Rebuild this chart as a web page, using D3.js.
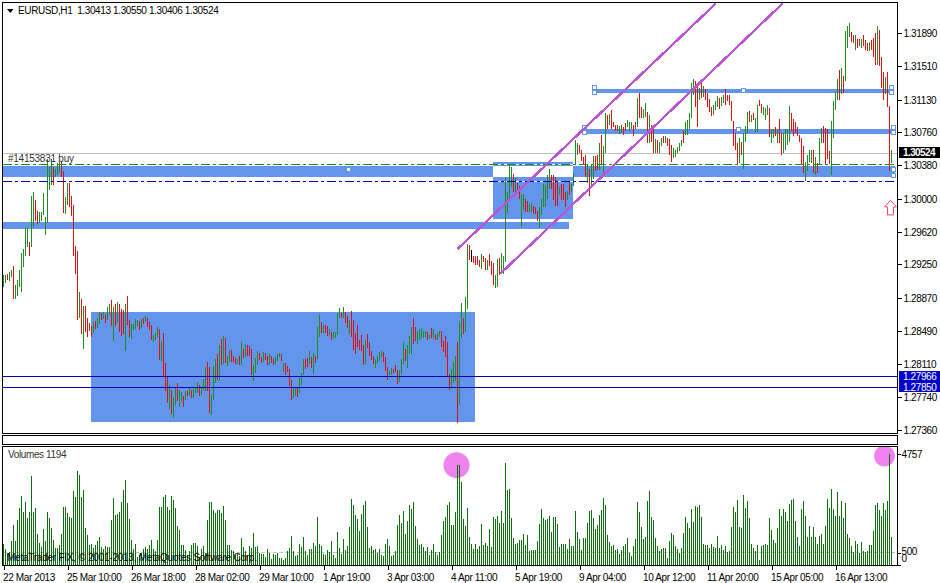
<!DOCTYPE html>
<html><head><meta charset="utf-8">
<script src="https://cdn.jsdelivr.net/npm/d3@7"></script>
<style>
html,body{margin:0;padding:0;background:#fff;overflow:hidden}
text{font-family:"Liberation Sans",Arial,sans-serif;font-size:10px;letter-spacing:-0.38px;fill:#000}
.domain{display:none}
</style></head><body><div id="c"></div>
<script>
// Prices are in units of 0.0001 (12913 = 1.2913)
const highs=[
12913,12913,12914,12916,12918,12923,12902,12907,12918,12938,
12943,12966,12966,12950,13003,13008,12999,12986,12985,12985,
13007,12979,13045,13036,13045,13036,13034,13041,13042,13043,
13032,13002,13018,13018,13003,12993,12946,12940,12894,12885,
12878,12877,12864,12858,12855,12859,12860,12864,12871,12869,
12871,12868,12876,12880,12884,12876,12880,12882,12880,12874,
12873,12880,12889,12861,12857,12857,12863,12861,12860,12863,
12864,12866,12864,12859,12856,12844,12847,12853,12851,12837,
12847,12812,12798,12787,12782,12774,12784,12790,12782,12779,
12775,12780,12780,12785,12782,12783,12785,12791,12787,12784,
12794,12808,12814,12808,12776,12809,12817,12823,12833,12840,
12843,12841,12820,12827,12827,12821,12818,12817,12821,12836,
12828,12834,12833,12832,12828,12810,12818,12826,12824,12819,
12825,12824,12821,12823,12820,12817,12819,12823,12824,12823,
12812,12812,12809,12806,12793,12785,12783,12785,12795,12801,
12817,12817,12818,12826,12819,12824,12820,12853,12867,12859,
12856,12856,12855,12851,12848,12848,12848,12869,12875,12869,
12876,12871,12866,12861,12872,12861,12847,12856,12839,12844,
12833,12839,12845,12836,12826,12821,12817,12820,12825,12826,
12825,12819,12808,12803,12807,12806,12810,12804,12804,12817,
12836,12828,12833,12843,12853,12864,12853,12849,12851,12852,
12849,12849,12848,12844,12852,12851,12844,12847,12849,12849,
12837,12843,12836,12800,12806,12814,12821,12836,12859,12881,
12864,12888,12948,12947,12941,12935,12934,12934,12930,12937,
12935,12932,12930,12937,12929,12926,12913,12931,12932,12938,
12934,13024,13008,13038,13036,13028,13024,13018,13014,13005,
13005,13000,12997,12994,12995,12992,12991,12986,12991,13000,
13017,13015,13027,13034,13027,13027,13025,13019,13013,13017,
13017,13008,13009,13019,13017,13029,13067,13063,13061,13055,
13048,13050,13039,13034,13039,13049,13049,13050,13063,13073,
13060,13098,13096,13097,13101,13088,13084,13084,13083,13084,
13082,13086,13090,13088,13088,13084,13088,13115,13121,13105,
13102,13109,13099,13096,13084,13084,13068,13067,13065,13069,
13072,13072,13069,13068,13061,13058,13056,13059,13064,13067,
13077,13088,13090,13098,13132,13136,13134,13130,13126,13136,
13129,13125,13120,13114,13104,13107,13111,13117,13115,13116,
13118,13125,13118,13118,13111,13089,13075,13063,13069,13065,
13075,13083,13099,13100,13095,13098,13092,13107,13113,13108,
13105,13103,13107,13103,13079,13079,13082,13079,13091,13075,
13075,13079,13079,13106,13098,13091,13088,13082,13073,13069,
13060,13042,13050,13055,13055,13056,13048,13041,13069,13081,
13083,13081,13079,13054,13089,13111,13122,13136,13147,13149,
13140,13191,13197,13200,13190,13187,13187,13182,13182,13182,
13187,13181,13178,13179,13181,13183,13189,13197,13192,13162,
13144,13139,13145,13106,13055];
const lows=[
12899,12904,12907,12906,12911,12886,12886,12889,12899,12893,
12922,12934,12945,12934,12945,12968,12975,12971,12972,12975,
12981,12958,12972,13010,13015,13016,13025,13027,13029,13025,
12984,12982,12993,12991,12980,12934,12914,12861,12864,12845,
12828,12848,12842,12849,12842,12847,12851,12852,12857,12861,
12863,12858,12861,12867,12855,12837,12855,12858,12848,12843,
12845,12826,12856,12842,12840,12850,12851,12855,12850,12852,
12857,12859,12853,12850,12839,12836,12839,12842,12816,12815,
12798,12780,12767,12760,12754,12750,12764,12769,12762,12768,
12762,12770,12775,12775,12772,12772,12778,12778,12775,12776,
12782,12780,12780,12755,12753,12770,12790,12793,12792,12810,
12811,12812,12809,12814,12814,12814,12811,12811,12810,12810,
12818,12819,12821,12821,12799,12792,12801,12810,12816,12812,
12814,12816,12810,12810,12812,12810,12811,12815,12819,12815,
12802,12799,12802,12786,12770,12772,12775,12774,12778,12787,
12799,12806,12808,12811,12807,12800,12812,12817,12842,12847,
12847,12847,12843,12844,12839,12841,12841,12844,12864,12864,
12864,12858,12852,12845,12842,12827,12823,12831,12827,12826,
12810,12811,12829,12821,12816,12811,12807,12812,12815,12819,
12814,12803,12793,12799,12799,12801,12802,12788,12791,12800,
12811,12815,12807,12823,12823,12834,12837,12834,12839,12841,
12841,12842,12839,12840,12841,12841,12839,12839,12842,12831,
12825,12819,12798,12782,12785,12790,12792,12744,12764,12841,
12845,12848,12874,12930,12928,12926,12924,12924,12922,12920,
12928,12918,12918,12923,12913,12902,12898,12899,12913,12914,
12914,12928,12984,13000,13013,13008,13008,13006,13000,12968,
12987,12985,12985,12985,12985,12983,12982,12975,12966,12981,
12991,12991,13000,13011,13011,12998,12992,12992,13004,12998,
12999,12991,12998,13004,13008,13014,13039,13050,13052,13043,
13039,13025,13018,13003,13012,13022,13031,13033,13033,13039,
13025,13052,13080,13084,13080,13082,13077,13077,13074,13075,
13073,13077,13082,13077,13080,13071,13080,13082,13092,13092,
13092,13093,13063,13064,13065,13052,13052,13052,13052,13060,
13064,13064,13060,13050,13042,13046,13047,13052,13054,13060,
13063,13073,13073,13079,13092,13118,13105,13082,13113,13115,
13116,13113,13104,13099,13094,13096,13101,13105,13102,13106,
13109,13107,13111,13107,13089,13060,13056,13039,13041,13050,
13034,13065,13075,13087,13088,13090,13076,13076,13106,13098,
13095,13090,13096,13070,13063,13069,13071,13063,13063,13050,
13052,13055,13061,13065,13077,13071,13075,13072,13065,13039,
13029,13020,13031,13042,13041,13029,13027,13029,13038,13064,
13064,13039,13045,13039,13027,13069,13101,13113,13113,13119,
13121,13134,13172,13185,13179,13178,13170,13172,13174,13172,
13174,13170,13169,13168,13170,13162,13153,13153,13151,13126,
13113,13119,13105,13032,13041];
// u = rising bar, d = falling bar, k = unchanged bar
const directions=[
"uuduuduuuu","uuuduudduu","uuuuuduuud","duudddddud","udddduduud","uduudududd",
"dudduuuudu","duddduuudu","ddduduuduu","dududuuudu","uudduuudud","uduudddudu",
"duddduuudd","uddudduuud","udddduuduu","uddududuud","udduduuuud","uddudddddd",
"dudddduuuu","ddduuddduu","uduuudduuu","uudududuud","dddduuuduu","duudkddddu",
"dduddduudu","uuuuududdu","udduuddduu","uuuuddddud","dduduuuudd","dduduuddud",
"uududddduu","dduuuddudd","uududduduu","duddduuuuu","duuuuuddud","udddduuudu",
"udddddddud","uuududuudd","uuuduududd","uuuudddddd","duuuududuu","dddduuuudu",
"duuudduddu","dddudddudd","duddu"].join("").split("");
const volumes=[
900,686,500,543,1030,1716,1030,1930,2460,2960,
2288,2703,2002,2274,3818,2274,2445,1330,944,772,
1544,1030,2274,2016,1587,1072,729,729,858,1330,
2488,2488,2231,2059,2016,3175,2917,4033,3861,2917,
3218,1587,1287,858,900,729,858,1030,1201,772,
686,815,772,772,1930,2874,2145,2188,2274,2703,
3218,3647,2660,1973,1072,686,900,343,429,515,
686,772,686,858,1072,686,600,1072,2488,2488,
2917,3003,2488,2360,2960,2788,2445,1673,1501,858,
858,643,429,600,858,944,944,815,343,686,
815,515,1930,2703,2703,2360,2231,2360,2360,2231,
2531,1930,858,858,643,600,429,472,386,1158,
772,600,429,815,729,1373,772,815,515,472,
472,343,686,515,257,472,429,515,300,300,
215,300,600,729,1244,600,386,429,900,772,
1201,600,429,686,686,944,815,2059,900,815,
472,429,643,558,1030,429,300,1416,729,472,
1115,643,815,1630,2831,2574,2145,1973,1459,2188,
2574,2746,1630,729,815,643,686,515,686,429,
386,900,1115,815,386,429,600,1716,2145,1802,
2317,1330,1888,2574,2402,2703,1673,1115,858,900,
772,600,772,429,643,900,558,429,558,1287,
1888,2059,2574,2703,1716,1716,2274,4290,4290,3561,
1973,1673,2445,1201,900,686,900,686,815,1759,
858,944,815,1544,772,2059,1973,2102,1802,2317,
1802,4376,3218,3260,2016,1158,900,944,1072,1072,
1330,858,1287,600,643,643,643,1030,1759,2402,
2016,1930,1973,2102,1416,2059,2059,1759,772,900,
900,900,686,1115,815,815,2317,1416,1115,643,
1158,1158,1802,2317,2360,2016,1544,1716,2145,2360,
2874,2574,1287,987,815,858,643,686,472,643,
815,900,1158,500,386,815,1115,2703,2274,1630,
1115,1201,2746,3175,2059,1930,1158,815,600,686,
729,729,300,1030,1373,1287,815,686,515,729,
1373,2059,1802,1587,2402,1845,2531,2488,2574,2059,
900,858,858,729,900,772,729,1244,729,858,
643,815,558,600,1630,2488,2274,2788,1630,1587,
3003,2445,2746,2016,900,729,600,858,215,815,
858,900,858,2016,1501,1072,944,1587,2402,2102,
2402,2274,1888,2617,2788,2831,1888,1201,815,2402,
2746,2102,1201,1673,1201,1630,1201,900,1244,1330,
900,1673,2831,2445,3260,2402,2102,3132,2102,2746,
2016,2660,1330,1158,815,558,1030,900,515,987,
600,558,600,858,858,1459,2574,2660,2360,2102,
2660,2360,2746,4757,1194];

const timeTickBars=[0,32,64,96,128,160,192,224,256,288,320,352,384,416];
const timeLabels=["22 Mar 2013","25 Mar 10:00","26 Mar 18:00","28 Mar 02:00","29 Mar 10:00","1 Apr 19:00","3 Apr 03:00","4 Apr 11:00","5 Apr 19:00","9 Apr 04:00","10 Apr 12:00","11 Apr 20:00","15 Apr 05:00","16 Apr 13:00"];
const priceTicks=[13189,13151,13113,13076,13038,13000,12962,12925,12887,12849,12811,12774,12736];
const volumeTicks=[4757,500,0];
const titleText="EURUSD,H1  1.30413 1.30550 1.30406 1.30524";
const orderLabel="#14153831 buy";
const volumeLabel="Volumes 1194";
const copyright="MetaTrader FIX, \u00A9 2001-2013, MetaQuotes Software Corp.";

// Drawn objects: [first bar, last bar, upper price, lower price]
const bigBox=[43.75,235.75,12871,12746];
const smallBox=[244.75,284.75,13041.5,12976];
const supportZone=[-2,446,13037,13025];
const lowerZone=[-2,282.75,12973,12965];
const upperZones=[[296.25,444.25,13125,13120.5],[290.75,445,13079.5,13074]];
const channelLines=[[227,12942.5,356.3,13223],[248.3,12914,389.7,13223]];
const bidLevel=13052.4, stopLevel=13039, limitLevel=13020;
const solidLevels=[12796.6,12785];
const priceTags=[[12796.6,"1.27966"],[12785,"1.27850"]];
const handles=[[295.5,13126.5],[295.5,13120.5],[444,13126],[444,13120],[172.5,13033],[370,13122.5],[290.5,13081],[290.5,13075],[367.5,13078],[445,13080.5],[445,13074.5],[445.5,13033],[445.5,13026]];
const volumeMarks=[[226.5,4280,13],[440.5,4670,10.5]];
const arrowAnchor=[443.5,12998];

const W=940,H=583, L=3,R=897;
const svg=d3.select("#c").append("svg").attr("width",W).attr("height",H).style("display","block");
const x=d3.scaleLinear().domain([0,444]).range([3.5,891.5]);
const y=d3.scaleLinear().domain([12736,13189]).range([430,33]);
const v=d3.scaleLinear().domain([0,4757]).range([565,454]);
const GREEN="#228b22",RED="#e01010",BLUE="#6495ed",PURPLE="#ba55d3",NAVY="#0000b0";

const defs=svg.append("defs");
defs.append("clipPath").attr("id","main").append("rect").attr("x",L).attr("y",3).attr("width",R-L).attr("height",430);
defs.append("clipPath").attr("id","vol").append("rect").attr("x",L).attr("y",447).attr("width",R-L).attr("height",118);

const gm=svg.append("g").attr("clip-path","url(#main)").attr("shape-rendering","crispEdges");
const zoneRect=(g,z,fill)=>g.append("rect").attr("x",Math.round(x(z[0])-0.5)).attr("width",Math.round(x(z[1])-x(z[0])))
  .attr("y",Math.round(y(z[2]))).attr("height",Math.round(y(z[3])-y(z[2]))).attr("fill",fill);

zoneRect(gm,bigBox,BLUE);
zoneRect(gm,supportZone,BLUE);
zoneRect(gm,lowerZone,BLUE);
upperZones.forEach(z=>zoneRect(gm,z,BLUE));
zoneRect(gm,smallBox,BLUE);
// overlap of the small box and the support zone is inverted
zoneRect(gm,[smallBox[0],smallBox[1],supportZone[2],supportZone[3]],"#fff");

// bid line
gm.append("line").attr("x1",L).attr("x2",R).attr("y1",Math.round(y(bidLevel))+.5).attr("y2",Math.round(y(bidLevel))+.5).attr("stroke","#c0c0c0");

// inverted level lines inside the small box
[stopLevel,limitLevel].forEach(p=>gm.append("line").attr("x1",x(smallBox[0])).attr("x2",x(smallBox[1]))
  .attr("y1",Math.floor(y(p))+.5).attr("y2",Math.floor(y(p))+.5).attr("stroke","#fff"));

// price bars
gm.selectAll("line.bar").data(highs).join("line").attr("class","bar")
  .attr("x1",(d,i)=>x(i)).attr("x2",(d,i)=>x(i))
  .attr("y1",d=>Math.round(y(d))).attr("y2",(d,i)=>Math.round(y(lows[i])))
  .attr("stroke",(d,i)=>directions[i]==="u"?GREEN:directions[i]==="k"?"#000":RED);

// dash-dot levels
gm.append("line").attr("x1",L).attr("x2",R).attr("y1",Math.floor(y(stopLevel))+.5).attr("y2",Math.floor(y(stopLevel))+.5)
  .attr("stroke","#1a8c1a").attr("stroke-dasharray","9,3,3,3");
gm.append("line").attr("x1",L).attr("x2",R).attr("y1",Math.floor(y(limitLevel))+.5).attr("y2",Math.floor(y(limitLevel))+.5)
  .attr("stroke",NAVY).attr("stroke-dasharray","9,3,3,3");

// solid levels
solidLevels.forEach(p=>gm.append("line").attr("x1",L).attr("x2",R).attr("y1",Math.floor(y(p))+.5).attr("y2",Math.floor(y(p))+.5).attr("stroke",NAVY));

// channel
const gc=svg.append("g").attr("clip-path","url(#main)").attr("shape-rendering","crispEdges");
gc.selectAll("line").data(channelLines).join("line")
  .attr("x1",d=>x(d[0])).attr("y1",d=>y(d[1])).attr("x2",d=>x(d[2])).attr("y2",d=>y(d[3]))
  .attr("stroke",PURPLE).attr("stroke-width",2.4);

// object handles
gm.selectAll("rect.h").data(handles).join("rect").attr("class","h")
  .attr("x",d=>Math.round(x(d[0]))-2.5).attr("y",d=>Math.round(y(d[1]))-2.5).attr("width",4).attr("height",4)
  .attr("fill","#fff").attr("stroke",BLUE);

// alert arrow
const ax=x(arrowAnchor[0]), ay=y(arrowAnchor[1]);
svg.append("path").attr("d",`M${ax},${ay}l6,6.5h-3v8h-6v-8h-3z`).attr("fill","#fff").attr("stroke","#ff4868").attr("stroke-width",1);

// order label
svg.append("text").attr("x",8).attr("y",y(bidLevel)+9).style("letter-spacing","-0.25px").style("fill","#333").text(orderLabel);

// volume pane
const gv=svg.append("g").attr("clip-path","url(#vol)");
gv.selectAll("circle").data(volumeMarks).join("circle").attr("cx",d=>x(d[0])).attr("cy",d=>v(d[1])).attr("r",d=>d[2]).attr("fill","#ee82ee");
gv.append("line").attr("x1",L).attr("x2",R).attr("y1",Math.round(v(500))-.5).attr("y2",Math.round(v(500))-.5).attr("stroke","#c0c0c0").attr("stroke-dasharray","4,2");
gv.selectAll("line.vb").data(volumes).join("line").attr("class","vb").attr("shape-rendering","crispEdges")
  .attr("x1",(d,i)=>x(i)).attr("x2",(d,i)=>x(i)).attr("y1",d=>Math.round(v(d))).attr("y2",565).attr("stroke","#0f6f0f");
svg.append("text").attr("x",8).attr("y",458).style("fill","#333").text(volumeLabel);
svg.append("text").attr("x",7).attr("y",561).style("letter-spacing","-0.24px").text(copyright);

// frames
const fr=svg.append("g").attr("fill","none").attr("stroke","#000").attr("shape-rendering","crispEdges");
fr.append("rect").attr("x",2.5).attr("y",2.5).attr("width",R-2.5+.5).attr("height",431);
fr.append("rect").attr("x",2.5).attr("y",435.5).attr("width",R-2.5+.5).attr("height",9);
fr.append("rect").attr("x",2.5).attr("y",446.5).attr("width",R-2.5+.5).attr("height",118.5);

// axes
const ay1=svg.append("g").attr("transform",`translate(${R+.5},0)`)
  .call(d3.axisRight(y).tickValues(priceTicks).tickSize(4).tickPadding(2).tickFormat(d=>(d/10000).toFixed(5)));
ay1.selectAll("line").attr("shape-rendering","crispEdges").attr("stroke","#000");
ay1.selectAll("text").attr("dy","0.35em").attr("x",6);
const ay2=svg.append("g").attr("transform",`translate(${R+.5},0)`)
  .call(d3.axisRight(v).tickValues(volumeTicks).tickSize(3).tickPadding(2).tickFormat(d3.format("d")));
ay2.selectAll("line").attr("shape-rendering","crispEdges").attr("stroke","#000");
ay2.selectAll("text").attr("x",4).attr("dy",d=>d===0?"-3.5px":d===500?"1.5px":"3.5px");
const ax1=svg.append("g").attr("transform","translate(0,565.5)")
  .call(d3.axisBottom(x).tickValues(timeTickBars).tickSize(4).tickFormat((d,i)=>timeLabels[i]));
ax1.selectAll("line").attr("shape-rendering","crispEdges").attr("stroke","#000");
ax1.selectAll("text").attr("text-anchor","start").attr("x",-1).attr("y",8);
[ay1,ay2,ax1].forEach(a=>a.attr("font-family",null).attr("font-size",null));

// price tags
svg.append("rect").attr("x",899).attr("y",y(bidLevel)-5.5).attr("width",41).attr("height",11).attr("fill","#000").attr("shape-rendering","crispEdges");
svg.append("text").attr("x",903).attr("y",y(bidLevel)+3.5).style("fill","#fff").style("font-weight","bold").style("letter-spacing","-0.6px").text("1.30524");
svg.append("rect").attr("x",899).attr("y",371).attr("width",41).attr("height",21).attr("fill","#0000cc").attr("shape-rendering","crispEdges");
svg.selectAll("text.tag").data(priceTags).join("text").attr("class","tag").attr("x",903).attr("y",d=>y(d[0])+3.5).style("fill","#fff").text(d=>d[1]);

// title
svg.append("path").attr("d","M7,9h6.5l-3.25,4z").attr("fill","#000");
svg.append("text").attr("x",18).attr("y",14).style("white-space","pre").text(titleText);
</script></body></html>
